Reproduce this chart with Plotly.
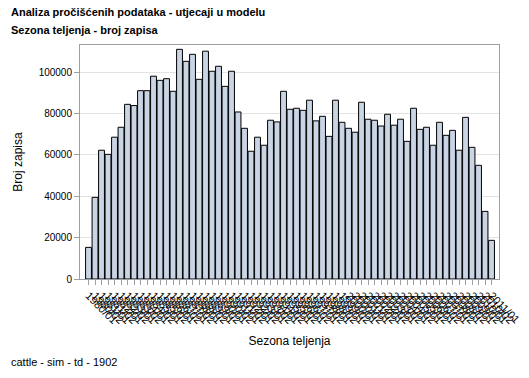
import plotly.graph_objects as go

# Calving seasons (label text estimated; overlapping labels in original)
years = [y for y in range(1980, 2012) for s in (1, 2)]
seasons = [s for y in range(1980, 2012) for s in (1, 2)]
categories = [f"{y}/{s:02d}" for y, s in zip(years, seasons)][:63]

counts = [
    15300, 39500, 62300, 60300, 68600, 73400, 84500, 83900, 91100, 91100,
    98100, 96100, 96900, 90800, 111100, 105300, 108700, 96600, 110200, 100500,
    102900, 93200, 100500, 80800, 72900, 61800, 68600, 64700, 76800, 76000,
    90800, 82100, 82600, 81600, 86500, 76500, 78700, 69000, 86500, 75800,
    72900, 71000, 85500, 77300, 76800, 74000, 79700, 74400, 77300, 66600,
    82600, 72400, 73400, 64700, 75800, 69500, 71900, 62300, 78200, 63700,
    55000, 32700, 18700,
]

y_ticks = [0, 20000, 40000, 60000, 80000, 100000]

FONT = "Liberation Sans, Arial, sans-serif"

fig = go.Figure(
    go.Bar(
        x=list(range(len(counts))),
        y=counts,
        marker=dict(color="#c9d4e4", line=dict(color="#000000", width=1)),
        hoverinfo="skip",
    )
)

fig.update_layout(
    width=529,
    height=378,
    margin=dict(l=80, r=30, t=45, b=99),
    paper_bgcolor="white",
    plot_bgcolor="white",
    bargap=0.1,
    showlegend=False,
    font=dict(family=FONT, size=10, color="#000000"),
    annotations=[
        dict(text="<b>Analiza pročišćenih podataka - utjecaji u modelu</b>",
             xref="paper", yref="paper", x=-0.17, y=1.143, xanchor="left", yanchor="middle",
             showarrow=False, font=dict(size=11, family=FONT)),
        dict(text="<b>Sezona teljenja - broj zapisa</b>",
             xref="paper", yref="paper", x=-0.17, y=1.066, xanchor="left", yanchor="middle",
             showarrow=False, font=dict(size=11, family=FONT)),
        dict(text="cattle - sim - td - 1902",
             xref="paper", yref="paper", x=-0.17, y=-0.355, xanchor="left", yanchor="middle",
             showarrow=False, font=dict(size=11, family=FONT)),
    ],
)

fig.update_xaxes(
    tickmode="array",
    tickvals=list(range(len(categories))),
    ticktext=categories,
    tickangle=45,
    range=[-1.31, 63.15],
    showgrid=False,
    ticks="outside",
    ticklen=5,
    tickcolor="#9aa0a6",
    showline=True,
    linecolor="#9aa0a6",
    linewidth=1,
    mirror=True,
    tickfont=dict(size=11, family=FONT),
    title=dict(text="Sezona teljenja", font=dict(size=12, family=FONT), standoff=11),
    automargin=False,
)

fig.update_yaxes(
    range=[0, 113200],
    tickvals=y_ticks,
    tickformat="d",
    showgrid=True,
    gridcolor="#e3e3e3",
    gridwidth=1,
    ticks="outside",
    ticklen=5,
    tickcolor="#9aa0a6",
    showline=True,
    linecolor="#9aa0a6",
    linewidth=1,
    mirror=True,
    zeroline=False,
    tickfont=dict(size=10, family=FONT),
    title=dict(text="Broj zapisa", font=dict(size=12, family=FONT), standoff=13),
    automargin=False,
)

fig.write_html("out.html", config={"displayModeBar": False},
               post_script="document.body.style.margin='0';")
